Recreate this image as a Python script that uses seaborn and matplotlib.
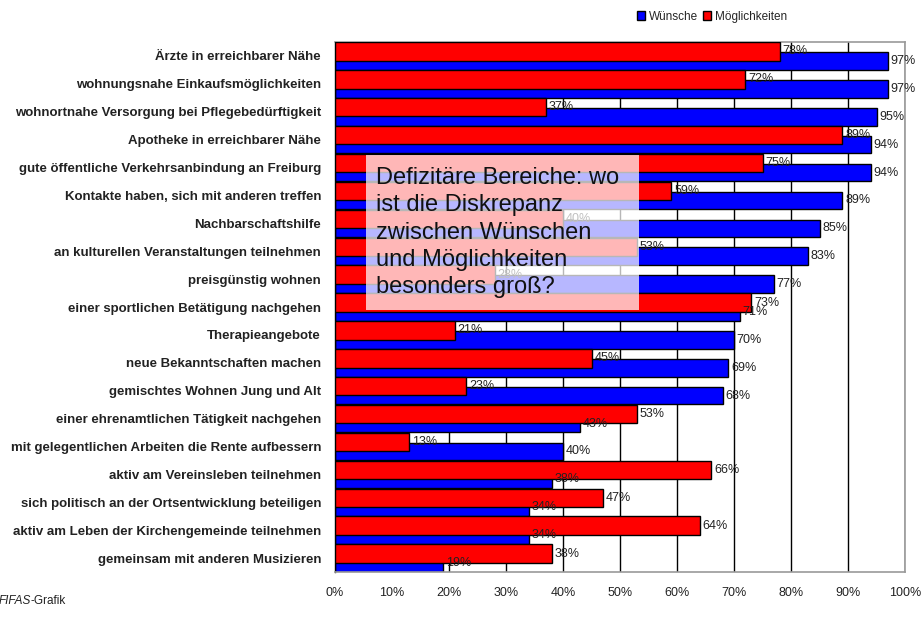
import matplotlib
matplotlib.use("Agg")
import matplotlib.pyplot as plt
from matplotlib.patches import Patch, Rectangle
from matplotlib.ticker import MultipleLocator
import seaborn as sns
import pandas as pd
import numpy as np

# Daten (von oben nach unten)
categories = [
    "Ärzte in erreichbarer Nähe",
    "wohnungsnahe Einkaufsmöglichkeiten",
    "wohnortnahe Versorgung bei Pflegebedürftigkeit",
    "Apotheke in erreichbarer Nähe",
    "gute öffentliche Verkehrsanbindung an Freiburg",
    "Kontakte haben, sich mit anderen treffen",
    "Nachbarschaftshilfe",
    "an kulturellen Veranstaltungen teilnehmen",
    "preisgünstig wohnen",
    "einer sportlichen Betätigung nachgehen",
    "Therapieangebote",
    "neue Bekanntschaften machen",
    "gemischtes Wohnen Jung und Alt",
    "einer ehrenamtlichen Tätigkeit nachgehen",
    "mit gelegentlichen Arbeiten die Rente aufbessern",
    "aktiv am Vereinsleben teilnehmen",
    "sich politisch an der Ortsentwicklung beteiligen",
    "aktiv am Leben der Kirchengemeinde teilnehmen",
    "gemeinsam mit anderen Musizieren",
]
wuensche = [97, 97, 95, 94, 94, 89, 85, 83, 77, 71, 70, 69, 68, 43, 40, 38, 34, 34, 19]
moeglichkeiten = [78, 72, 37, 89, 75, 59, 40, 53, 28, 73, 21, 45, 23, 53, 13, 66, 47, 64, 38]
x_ticks = list(range(0, 101, 10))

BLUE = "#0000FF"
RED = "#FF0000"

sns.set_style("white")
plt.rcParams["font.family"] = ["Liberation Sans", "DejaVu Sans"]

pos = np.arange(len(categories))
df_w = pd.DataFrame({"wert": wuensche, "pos": pos + 0.18})
df_m = pd.DataFrame({"wert": moeglichkeiten, "pos": pos - 0.16})

fig = plt.figure(figsize=(9.24, 6.33), dpi=100)
ax = fig.add_axes([335 / 924, 1 - 572 / 633, 570 / 924, 530 / 633])

# Wünsche zuerst, Möglichkeiten darüber
sns.barplot(data=df_w, x="wert", y="pos", orient="y", native_scale=True,
            color=BLUE, saturation=1, edgecolor="black", linewidth=1,
            width=0.63, ax=ax, zorder=2)
sns.barplot(data=df_m, x="wert", y="pos", orient="y", native_scale=True,
            color=RED, saturation=1, edgecolor="black", linewidth=1,
            width=0.66, ax=ax, zorder=3)

ax.bar_label(ax.containers[0], labels=[f"{v}%" for v in wuensche],
             padding=2, fontsize=9, color="#222222", zorder=4)
ax.bar_label(ax.containers[1], labels=[f"{v}%" for v in moeglichkeiten],
             padding=2, fontsize=9, color="#222222", zorder=4)

ax.set_xlim(0, 100)
ax.set_ylim(len(categories) - 0.5, -0.5)
ax.set_xticks(x_ticks)
ax.set_xticklabels([f"{t}%" for t in x_ticks], fontsize=9, color="#222222")
ax.set_yticks(pos)
ax.set_yticklabels(categories, fontsize=9.5, fontweight="bold", color="#222222")
ax.yaxis.set_minor_locator(MultipleLocator(1, offset=0.5))
ax.tick_params(axis="y", which="major", length=0, pad=10)
ax.tick_params(axis="y", which="minor", length=5, width=1, color="black", direction="out")
ax.tick_params(axis="x", length=5, width=1, color="black", direction="inout", pad=8)
ax.set_xlabel("")
ax.set_ylabel("")

ax.xaxis.grid(True, color="black", linewidth=1)
ax.set_axisbelow(True)
for side in ["top", "right", "bottom"]:
    ax.spines[side].set_color("#999999")
    ax.spines[side].set_linewidth(1.2)
ax.spines["left"].set_color("black")
ax.spines["left"].set_linewidth(1)

# Hinweis-Kasten
ax.add_patch(Rectangle((366 / 924, 1 - 310 / 633), 273 / 924, 155 / 633,
                       transform=fig.transFigure, facecolor="white",
                       alpha=0.72, edgecolor="none", zorder=5))
ax.text(376 / 924, 1 - 167 / 633,
        "Defizitäre Bereiche: wo\nist die Diskrepanz\nzwischen Wünschen\nund Möglichkeiten\nbesonders groß?",
        transform=fig.transFigure, ha="left", va="top", fontsize=17,
        linespacing=1.31, color="#111111", zorder=6)

# Legende
handles = [Patch(facecolor=BLUE, edgecolor="black", label="Wünsche"),
           Patch(facecolor=RED, edgecolor="black", label="Möglichkeiten")]
fig.legend(handles=handles, loc="center", bbox_to_anchor=(712 / 924, 1 - 17 / 633),
           ncol=2, frameon=False, fontsize=8.5, handlelength=0.7, handleheight=0.8,
           handletextpad=0.3, columnspacing=0.4)

# Quelle
t1 = fig.text(-0.002, 1 - 601 / 633, "FIFAS", fontsize=8.5, style="italic",
              va="center", color="#222222")
fig.canvas.draw()
bb = t1.get_window_extent()
fig.text(bb.x1 / 924, 1 - 601 / 633, "-Grafik", fontsize=8.5, va="center", color="#222222")

fig.savefig("out.png", dpi=100)
